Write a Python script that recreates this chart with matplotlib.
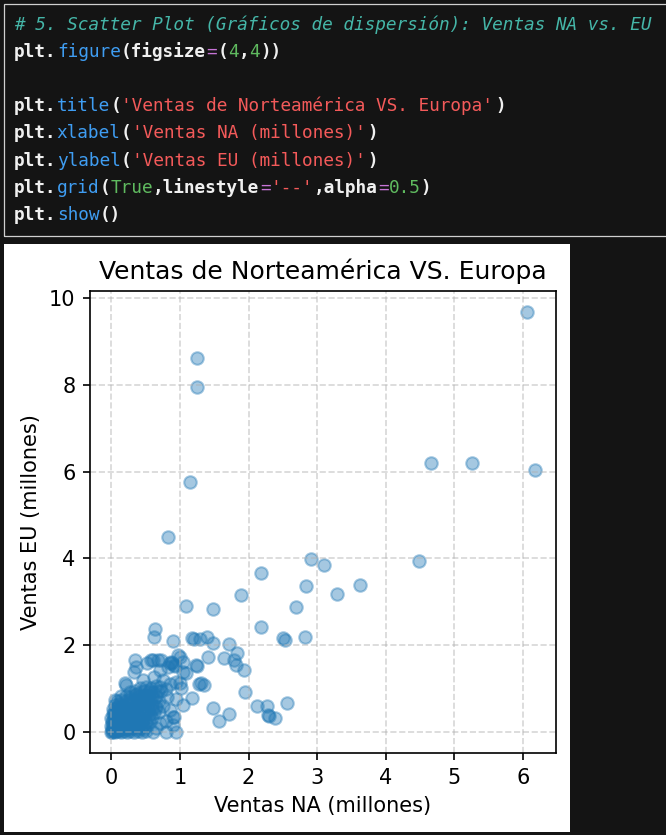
import matplotlib.pyplot as plt
from matplotlib.patches import Rectangle

# Ventas (millones): NA en x, EU en y

# nube densa cerca del origen, fila por fila
na_core = [0.00, 0.02, 0.05, 0.08, 0.11, 0.15, 0.19, 0.23, 0.28, 0.33, 0.39, 0.45, 0.51,
           0.01, 0.04, 0.09, 0.13, 0.17, 0.21, 0.26, 0.31, 0.37, 0.43, 0.48,
           0.00, 0.03, 0.07, 0.11, 0.15, 0.19, 0.24, 0.29, 0.34, 0.40, 0.46, 0.52,
           0.01, 0.05, 0.10, 0.14, 0.18, 0.23, 0.28, 0.33, 0.39, 0.45, 0.51, 0.56,
           0.00, 0.04, 0.09, 0.14, 0.19, 0.24, 0.30, 0.35, 0.41, 0.47, 0.53, 0.59,
           0.02, 0.06, 0.11, 0.16, 0.21, 0.27, 0.32, 0.38, 0.44, 0.50, 0.56, 0.62,
           0.03, 0.08, 0.13, 0.19, 0.24, 0.30, 0.36, 0.42, 0.48, 0.54, 0.60, 0.66,
           0.05, 0.11, 0.17, 0.23, 0.29, 0.35, 0.41, 0.47, 0.53, 0.59, 0.66,
           0.08, 0.14, 0.21, 0.27, 0.33, 0.39, 0.45, 0.51, 0.57, 0.63, 0.69,
           0.14, 0.21, 0.28, 0.34, 0.41, 0.47, 0.53, 0.59, 0.65,
           0.27, 0.34, 0.41, 0.48, 0.55, 0.61, 0.68,
           0.42, 0.50, 0.58, 0.65, 0.71,
           0.01, 0.03, 0.05, 0.07, 0.10, 0.12, 0.16, 0.20, 0.25,
           0.02, 0.06, 0.09, 0.13, 0.18, 0.04, 0.08, 0.12, 0.22,
           0.30, 0.38, 0.45, 0.52, 0.36, 0.44, 0.50, 0.57]
eu_core = [0.00, 0.03, 0.01, 0.04, 0.02, 0.00, 0.03, 0.01, 0.02, 0.00, 0.03, 0.01, 0.02,
           0.08, 0.06, 0.09, 0.07, 0.10, 0.06, 0.08, 0.09, 0.07, 0.10, 0.06,
           0.14, 0.17, 0.13, 0.16, 0.15, 0.18, 0.14, 0.17, 0.15, 0.16, 0.13, 0.17,
           0.24, 0.22, 0.25, 0.23, 0.26, 0.22, 0.25, 0.24, 0.23, 0.26, 0.24, 0.22,
           0.33, 0.35, 0.32, 0.34, 0.31, 0.35, 0.33, 0.32, 0.34, 0.31, 0.35, 0.33,
           0.42, 0.44, 0.41, 0.45, 0.43, 0.41, 0.44, 0.42, 0.45, 0.43, 0.41, 0.44,
           0.52, 0.55, 0.53, 0.51, 0.54, 0.52, 0.55, 0.53, 0.51, 0.54, 0.52, 0.55,
           0.62, 0.64, 0.61, 0.65, 0.63, 0.61, 0.64, 0.62, 0.65, 0.63, 0.61,
           0.72, 0.74, 0.71, 0.75, 0.73, 0.72, 0.74, 0.71, 0.73, 0.75, 0.72,
           0.82, 0.84, 0.81, 0.85, 0.83, 0.82, 0.84, 0.81, 0.83,
           0.92, 0.94, 0.91, 0.95, 0.93, 0.92, 0.94,
           1.02, 1.04, 1.01, 1.05, 1.03,
           0.01, 0.05, 0.11, 0.03, 0.12, 0.06, 0.20, 0.11, 0.19,
           0.28, 0.30, 0.38, 0.27, 0.37, 0.47, 0.58, 0.46, 0.30,
           0.48, 0.58, 0.66, 0.78, 0.88, 0.68, 0.86, 0.97]

# puntos sueltos alrededor de la nube
na_spread = [0.335, 0.345, 0.20, 0.05, 0.97, 0.584, 0.68, 0.85, 0.92, 0.93, 1.045,
             1.24, 0.22, 0.46, 0.705, 0.63, 0.80, 1.00, 0.92, 0.75, 0.85, 0.72, 0.81,
             0.95, 0.76, 0.86, 0.70, 0.80, 0.66, 0.90, 0.61, 0.80, 0.95, 0.705, 0.90,
             0.632, 0.617, 0.90, 1.17, 1.21, 1.29, 1.40, 1.49, 1.71, 1.83, 1.415, 1.64,
             1.785, 1.815, 1.93, 1.255, 1.045, 0.87, 0.89, 0.61, 0.73, 1.00, 0.83, 1.085,
             1.28, 1.31, 1.35, 1.946, 0.95, 1.02, 1.17, 1.045, 1.484, 1.717, 1.57, 2.117,
             2.27, 2.555, 2.28, 2.30, 2.385, 0.52, 0.365]
eu_spread = [1.39, 1.66, 1.12, 0.74, 1.77, 1.66, 1.66, 1.58, 1.54, 1.52, 1.39,
             1.54, 1.08, 1.20, 1.43, 1.27, 1.00, 1.12, 0.35, 1.20, 1.10, 0.95, 0.80,
             0.75, 0.60, 0.50, 0.45, 0.25, 0.10, 0.15, 0.00, 0.00, 0.00, 0.20, 0.35,
             2.37, 2.20, 2.10, 2.16, 2.15, 2.14, 2.18, 2.04, 2.02, 1.83, 1.735, 1.70,
             1.66, 1.54, 1.44, 1.52, 1.62, 1.62, 1.60, 1.66, 1.66, 1.735, 1.49, 1.35,
             1.11, 1.12, 1.08, 0.93, 1.16, 1.01, 0.78, 0.62, 0.56, 0.41, 0.26, 0.60,
             0.60, 0.66, 0.40, 0.37, 0.315, 1.60, 1.50]

# ventas altas
na_top = [6.05, 1.255, 1.255, 1.153, 0.826, 4.657, 5.255, 6.17, 2.905, 3.10, 4.486, 2.18,
          1.898, 2.84, 3.29, 3.625, 2.69, 2.18, 2.50, 2.53, 2.82, 1.085, 1.484]
eu_top = [9.68, 8.61, 7.96, 5.77, 4.50, 6.19, 6.19, 6.05, 3.99, 3.84, 3.95, 3.67,
          3.15, 3.36, 3.19, 3.39, 2.87, 2.43, 2.17, 2.12, 2.20, 2.90, 2.83]

na_sales = na_core + na_spread + na_top
eu_sales = eu_core + eu_spread + eu_top

# lineas de la celda de codigo: (texto, color, cursiva)
W, B, G, M, R, C = '#f0f0f0', '#3f9df2', '#5fba5f', '#c774d6', '#f45a5a', '#45b6a8'
code_lines = [
    [('# 5. Scatter Plot (Gráficos de dispersión): Ventas NA vs. EU', C, True)],
    [('plt.', W, False), ('figure', B, False), ('(figsize', W, False), ('=', M, False),
     ('(', W, False), ('4', G, False), (',', W, False), ('4', G, False), ('))', W, False)],
    [],
    [('plt.', W, False), ('title', B, False), ('(', W, False),
     ("'Ventas de Norteamérica VS. Europa'", R, False), (')', W, False)],
    [('plt.', W, False), ('xlabel', B, False), ('(', W, False),
     ("'Ventas NA (millones)'", R, False), (')', W, False)],
    [('plt.', W, False), ('ylabel', B, False), ('(', W, False),
     ("'Ventas EU (millones)'", R, False), (')', W, False)],
    [('plt.', W, False), ('grid', B, False), ('(', W, False), ('True', G, False),
     (',linestyle', W, False), ('=', M, False), ("'--'", R, False), (',alpha', W, False),
     ('=', M, False), ('0.5', G, False), (')', W, False)],
    [('plt.', W, False), ('show', B, False), ('()', W, False)],
]

FW, FH = 666, 835
fig = plt.figure(figsize=(FW / 150, FH / 150), dpi=150, facecolor='#141414')

# marco de la celda
fig.add_artist(Rectangle((4 / FW, 1 - 236 / FH), 700 / FW, 232 / FH, transform=fig.transFigure,
                         fill=False, edgecolor='#d0d0d0', linewidth=0.6))

char_w = 10.7
for i, segs in enumerate(code_lines):
    col = 0
    y = 1 - (30 + i * 27.1) / FH
    for txt, color, italic in segs:
        fig.text((14 + col * char_w) / FW, y, txt, color=color, fontsize=8.55,
                 family='DejaVu Sans Mono', style='italic' if italic else 'normal',
                 weight='bold' if color == W else 'normal',
                 va='baseline', ha='left')
        col += len(txt)

# fondo blanco de la salida
fig.add_artist(Rectangle((4 / FW, 1 - 832 / FH), 566 / FW, 588 / FH, transform=fig.transFigure,
                         facecolor='white', edgecolor='none', zorder=-5))

ax = fig.add_axes([90 / FW, (FH - 753) / FH, 466 / FW, 462 / FH])
ax.scatter(na_sales, eu_sales, alpha=0.4)
ax.set_title('Ventas de Norteamérica VS. Europa')
ax.set_xlabel('Ventas NA (millones)')
ax.set_ylabel('Ventas EU (millones)')
ax.grid(True, linestyle='--', alpha=0.5)

fig.savefig('out.png', dpi=150, facecolor=fig.get_facecolor())
